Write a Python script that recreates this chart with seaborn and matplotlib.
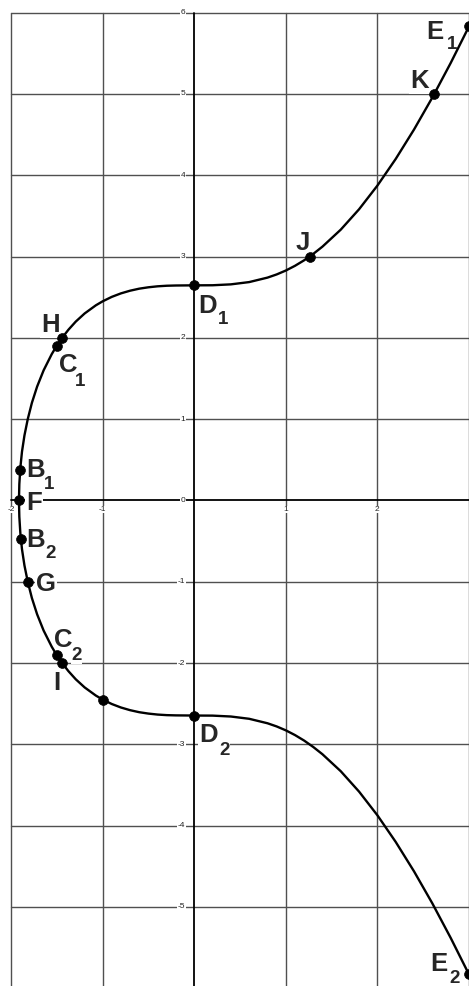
import numpy as np
import pandas as pd
import seaborn as sns
import matplotlib
matplotlib.use("Agg")
import matplotlib.pyplot as plt
from matplotlib.transforms import IdentityTransform

# ---- data ----
upper_x = [-1.913, -1.909, -1.898, -1.880, -1.853, -1.817, -1.772, -1.715, -1.644, -1.555,
           -1.500, -1.442, -1.373, -1.293, -1.196, -1.074, -1.0, -0.9, -0.8, -0.7, -0.6,
           -0.5, -0.4, -0.3, -0.2, 0.0, 0.2, 0.4, 0.6, 0.8, 0.9, 1.0, 1.1, 1.2, 1.3, 1.4,
           1.6, 1.8, 2.0, 2.2, 2.4, 2.6, 2.8, 3.0]
upper_y = [0.0, 0.2, 0.4, 0.6, 0.8, 1.0, 1.2, 1.4, 1.6, 1.8,
           1.904, 2.0, 2.1, 2.2, 2.3, 2.4, 2.449, 2.504, 2.547, 2.580, 2.605,
           2.622, 2.634, 2.641, 2.644, 2.646, 2.647, 2.658, 2.686, 2.741, 2.780, 2.828, 2.886,
           2.954, 3.033, 3.122, 3.331, 3.582, 3.873, 4.201, 4.563, 4.957, 5.381, 5.831]
lower_x = [-1.913, -1.909, -1.898, -1.880, -1.853, -1.817, -1.772, -1.715, -1.644, -1.555,
           -1.500, -1.442, -1.373, -1.293, -1.196, -1.074, -1.0, -0.9, -0.8, -0.7, -0.6,
           -0.5, -0.4, -0.3, -0.2, 0.0, 0.2, 0.4, 0.6, 0.8, 0.9, 1.0, 1.1, 1.2, 1.3, 1.4,
           1.6, 1.8, 2.0, 2.2, 2.4, 2.6, 2.8, 3.0]
lower_y = [0.0, -0.2, -0.4, -0.6, -0.8, -1.0, -1.2, -1.4, -1.6, -1.8,
           -1.904, -2.0, -2.1, -2.2, -2.3, -2.4, -2.449, -2.504, -2.547, -2.580, -2.605,
           -2.622, -2.634, -2.641, -2.644, -2.646, -2.647, -2.658, -2.686, -2.741, -2.780, -2.828, -2.886,
           -2.954, -3.033, -3.122, -3.331, -3.582, -3.873, -4.201, -4.563, -4.957, -5.381, -5.831]

point_names = ["E1", "K", "J", "D1", "H", "C1", "B1", "F", "B2", "G", "C2", "I", "", "D2", "E2"]
point_x = [3.0, 2.62, 1.26, 0.0, -1.442, -1.5, -1.9, -1.913, -1.891, -1.817, -1.5, -1.442, -1.0, 0.0, 3.0]
point_y = [5.831, 5.0, 3.0, 2.646, 2.0, 1.904, 0.376, 0.0, -0.48, -1.0, -1.904, -2.0, -2.449, -2.646, -5.831]

x_ticks = [-2, -1, 1, 2]
y_ticks = [6, 5, 4, 3, 2, 1, 0, -1, -2, -3, -4, -5]

# label placement in pixels (letter, sub, letter_left, letter_base, sub_left, sub_base)
labels = [
    ("E", "1", 426, 39, 447, 49),
    ("K", "", 410, 88, 0, 0),
    ("J", "", 296, 250, 0, 0),
    ("D", "1", 198, 313, 218, 324),
    ("H", "", 41, 332, 0, 0),
    ("C", "1", 59, 372, 75, 386),
    ("B", "1", 26, 477, 44, 489),
    ("F", "", 26, 510, 0, 0),
    ("B", "2", 26, 547, 45, 558),
    ("G", "", 36, 591, 0, 0),
    ("C", "2", 54, 647, 71, 660),
    ("I", "", 53, 690, 0, 0),
    ("D", "2", 199, 742, 219, 755),
    ("E", "2", 430, 971, 449, 983),
]

sns.set_theme(style="white")
plt.rcParams["font.family"] = ["Liberation Sans", "DejaVu Sans"]

W, H = 469, 986
fig = plt.figure(figsize=(W / 100, H / 100), dpi=100)
ax = fig.add_axes([0, 0, 1, 1])
ax.set_xlim(-2.12, 3.0)
ax.set_ylim(-5.973, 6.156)
ax.axis("off")

grid_c = "#505050"
for gx in [-2, -1, 1, 2, 3]:
    ax.plot([gx, gx], [-6, 6], color=grid_c, lw=1.0, zorder=1)
for gy in range(-6, 7):
    if gy != 0:
        ax.plot([-2, 3], [gy, gy], color=grid_c, lw=1.0, zorder=1)
ax.plot([0, 0], [-6, 6], color="black", lw=1.3, zorder=1.5)
ax.plot([-2, 3], [0, 0], color="black", lw=1.3, zorder=1.5)

curve = pd.DataFrame({
    "x": list(reversed(lower_x)) + upper_x[1:],
    "y": list(reversed(lower_y)) + upper_y[1:],
})
sns.lineplot(data=curve, x="x", y="y", sort=False, estimator=None,
             color="black", lw=1.7, ax=ax, zorder=3)
pts = pd.DataFrame({"x": point_x, "y": point_y, "name": point_names})
sns.scatterplot(data=pts, x="x", y="y", color="black", s=50, edgecolor="black",
                linewidth=0.5, ax=ax, zorder=4, legend=False)
ax.set_xlim(-2.12, 3.0)
ax.set_ylim(-5.973, 6.156)

tick_kw = dict(fontsize=6, color="#222222", zorder=2,
               bbox=dict(facecolor="white", edgecolor="none", pad=0.3))
for t in x_ticks:
    ax.annotate(str(t), xy=(t, 0), xytext=(0, -9), textcoords="offset pixels",
                ha="center", va="center", **tick_kw)
for t in y_ticks:
    ax.annotate(str(t), xy=(0, t), xytext=(-9, 0), textcoords="offset pixels",
                ha="right", va="center", **tick_kw)

box = dict(facecolor="white", edgecolor="none", pad=1.0)
for letter, sub, lx, lb, sx, sb in labels:
    ax.text(lx, H - lb, letter, transform=IdentityTransform(), fontsize=18.5,
            fontweight="bold", ha="left", va="baseline", zorder=2, bbox=box)
    if sub:
        ax.text(sx, H - sb, sub, transform=IdentityTransform(), fontsize=13.5,
                fontweight="bold", ha="left", va="baseline", zorder=2.1,
                bbox=dict(facecolor="white", edgecolor="none", pad=0.2))

fig.savefig("out.png", dpi=100)
